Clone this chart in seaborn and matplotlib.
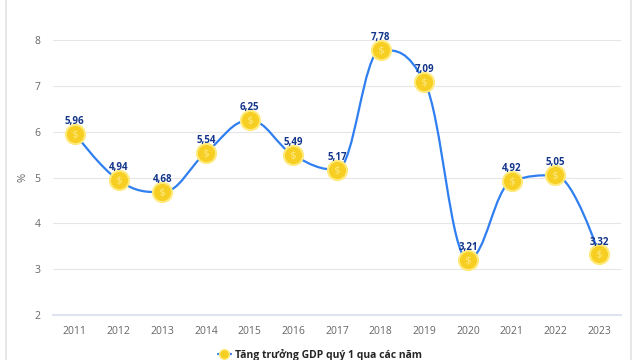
import numpy as np
import pandas as pd
import seaborn as sns
from matplotlib import pyplot as plt
from matplotlib.path import Path
from matplotlib.patches import PathPatch
from matplotlib.lines import Line2D

years = ['2011', '2012', '2013', '2014', '2015', '2016', '2017',
         '2018', '2019', '2020', '2021', '2022', '2023']
gdp_q1 = [5.96, 4.94, 4.68, 5.54, 6.25, 5.49, 5.17, 7.78, 7.09, 3.21, 4.92, 5.05, 3.32]
y_ticks = [2, 3, 4, 5, 6, 7, 8]
series_name = 'Tăng trưởng GDP quý 1 qua các năm'

line_blue = '#2f7ff0'
coin_gold = '#f7cf22'
coin_edge = '#ffe97a'
label_blue = '#13358a'

sns.set_style('white')
plt.rcParams['font.family'] = ['Open Sans', 'DejaVu Sans']

df = pd.DataFrame({'x': np.arange(len(years)), 'y': gdp_q1})


def spline_path(xs, ys, smoothing=1.5):
    # highcharts-like spline control points
    n = len(xs)
    left = [(xs[i], ys[i]) for i in range(n)]
    right = [(xs[i], ys[i]) for i in range(n)]
    denom = smoothing + 1
    for i in range(1, n - 1):
        lx = (smoothing * xs[i] + xs[i - 1]) / denom
        ly = (smoothing * ys[i] + ys[i - 1]) / denom
        rx = (smoothing * xs[i] + xs[i + 1]) / denom
        ry = (smoothing * ys[i] + ys[i + 1]) / denom
        if rx != lx:
            corr = (ry - ly) * (rx - xs[i]) / (rx - lx) + ys[i] - ry
            ly += corr
            ry += corr
        if ly > ys[i - 1] and ly > ys[i]:
            ly = max(ys[i - 1], ys[i])
            ry = 2 * ys[i] - ly
        elif ly < ys[i - 1] and ly < ys[i]:
            ly = min(ys[i - 1], ys[i])
            ry = 2 * ys[i] - ly
        if ry > ys[i + 1] and ry > ys[i]:
            ry = max(ys[i + 1], ys[i])
            ly = 2 * ys[i] - ry
        elif ry < ys[i + 1] and ry < ys[i]:
            ry = min(ys[i + 1], ys[i])
            ly = 2 * ys[i] - ry
        left[i] = (lx, ly)
        right[i] = (rx, ry)
    verts = [(xs[0], ys[0])]
    codes = [Path.MOVETO]
    for i in range(1, n):
        verts += [right[i - 1], left[i], (xs[i], ys[i])]
        codes += [Path.CURVE4] * 3
    return Path(verts, codes)


fig = plt.figure(figsize=(6.4, 3.6), dpi=100)
ax = fig.add_axes([53 / 640, 1 - 315 / 360, (621 - 53) / 640, (315 - 40) / 360])

ax.add_patch(PathPatch(spline_path(df['x'].tolist(), df['y'].tolist()),
                       facecolor='none', edgecolor=line_blue, lw=1.6, zorder=2))

sns.scatterplot(data=df, x='x', y='y', ax=ax, s=190, color=coin_gold,
                edgecolor=coin_edge, linewidth=1.5, zorder=3, clip_on=False, legend=False)
sns.scatterplot(data=df, x='x', y='y', ax=ax, s=40, marker='$\\$$', color='#fdeb8f',
                linewidth=0, zorder=4, clip_on=False, legend=False)

for xi, yi in zip(df['x'], df['y']):
    ax.annotate(f'{yi:.2f}'.replace('.', ','), (xi, yi), xytext=(0, 5),
                textcoords='offset points', ha='center', va='bottom',
                fontsize=7, fontweight='bold', color=label_blue, zorder=5)

ax.set_xlim(-0.5, len(years) - 0.5)
ax.set_ylim(2, 8)
ax.set_xticks(df['x'], years)
ax.set_yticks(y_ticks)
ax.grid(axis='y', color='#e6e6e6', lw=0.8)
ax.set_axisbelow(True)
for s in ['top', 'right', 'left']:
    ax.spines[s].set_visible(False)
ax.spines['bottom'].set_color('#dfe4f2')
ax.spines['bottom'].set_linewidth(1.5)
ax.tick_params(axis='both', length=0, labelsize=7.5, colors='#666666', pad=8)
ax.tick_params(axis='y', pad=9)
ax.set_xlabel('')
ax.set_ylabel('%', color='#666666', fontsize=8, labelpad=4)

# container borders
fig.add_artist(Line2D([6 / 640] * 2, [0, 1], color='#e3e3e3', lw=1.2))
fig.add_artist(Line2D([631 / 640] * 2, [0, 1], color='#e3e3e3', lw=1.2))

handle = Line2D([], [], color=line_blue, lw=1.6, marker='o', markersize=7,
                markerfacecolor=coin_gold, markeredgecolor=coin_edge)
fig.legend([handle], [series_name], loc='center', bbox_to_anchor=(0.5, 0.015),
           frameon=False, handlelength=1.2, handletextpad=0.4,
           prop={'weight': 'bold', 'size': 7.5})

fig.savefig('out.png', dpi=100)
